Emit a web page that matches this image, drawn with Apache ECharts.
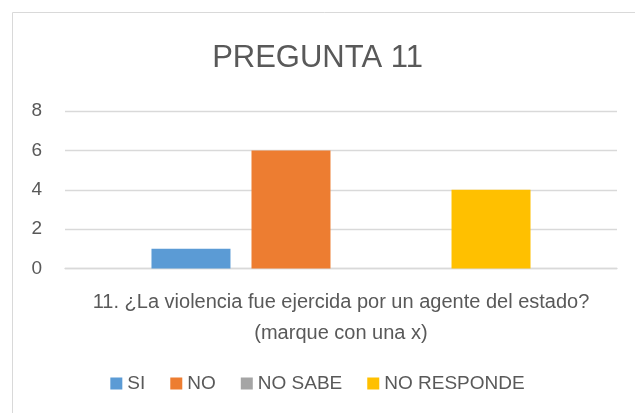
<!DOCTYPE html>
<html><head><meta charset="utf-8">
<script src="https://cdn.jsdelivr.net/npm/echarts@6/dist/echarts.min.js"></script>
<style>html,body{margin:0;padding:0;background:#fff}#c{width:635px;height:413px}</style>
</head><body><div id="c"></div>
<script>
const titleText = 'PREGUNTA 11';
const categories = ['11. ¿La violencia fue ejercida por un agente del estado?\n(marque con una x)'];
const seriesNames = ['SI', 'NO', 'NO SABE', 'NO RESPONDE'];
const seriesColors = ['#5b9bd5', '#ed7d31', '#a5a5a5', '#ffc000'];
const seriesValues = [[1], [6], [0], [4]];
const yTicks = {min: 0, max: 8, interval: 2};

const FONT = 'Liberation Sans';
const chart = echarts.init(document.getElementById('c'), null, {renderer: 'canvas'});
chart.setOption({
  animation: false,
  textStyle: {fontFamily: FONT},
  graphic: [{type: 'rect', shape: {x: 12.5, y: 12.5, width: 640, height: 420}, style: {fill: 'none', stroke: '#d9d9d9', lineWidth: 1}, silent: true}],
  title: {text: titleText, left: 'center', top: 38, textStyle: {fontFamily: FONT, fontSize: 31, fontWeight: 'normal', color: '#595959'}},
  grid: {left: 65, right: 18, top: 111, bottom: 144.5},
  legend: {data: seriesNames, bottom: 15, left: 'center', itemWidth: 12, itemHeight: 12, itemGap: 25, icon: 'rect',
    textStyle: {fontFamily: FONT, fontSize: 19, color: '#595959'}},
  xAxis: {type: 'category', data: categories, axisTick: {show: false},
    axisLine: {lineStyle: {color: '#d9d9d9', width: 1.3}},
    axisLabel: {fontFamily: FONT, fontSize: 20, color: '#595959', lineHeight: 31, margin: 18}},
  yAxis: {type: 'value', min: yTicks.min, max: yTicks.max, interval: yTicks.interval,
    axisLine: {show: false}, axisTick: {show: false},
    splitLine: {lineStyle: {color: '#d9d9d9', width: 1.3}},
    axisLabel: {fontFamily: FONT, fontSize: 19, color: '#595959', margin: 23}},
  series: seriesNames.map((n, i) => ({name: n, type: 'bar', data: seriesValues[i], barWidth: 79, barGap: '26.6%', itemStyle: {color: seriesColors[i]}}))
});
</script></body></html>
